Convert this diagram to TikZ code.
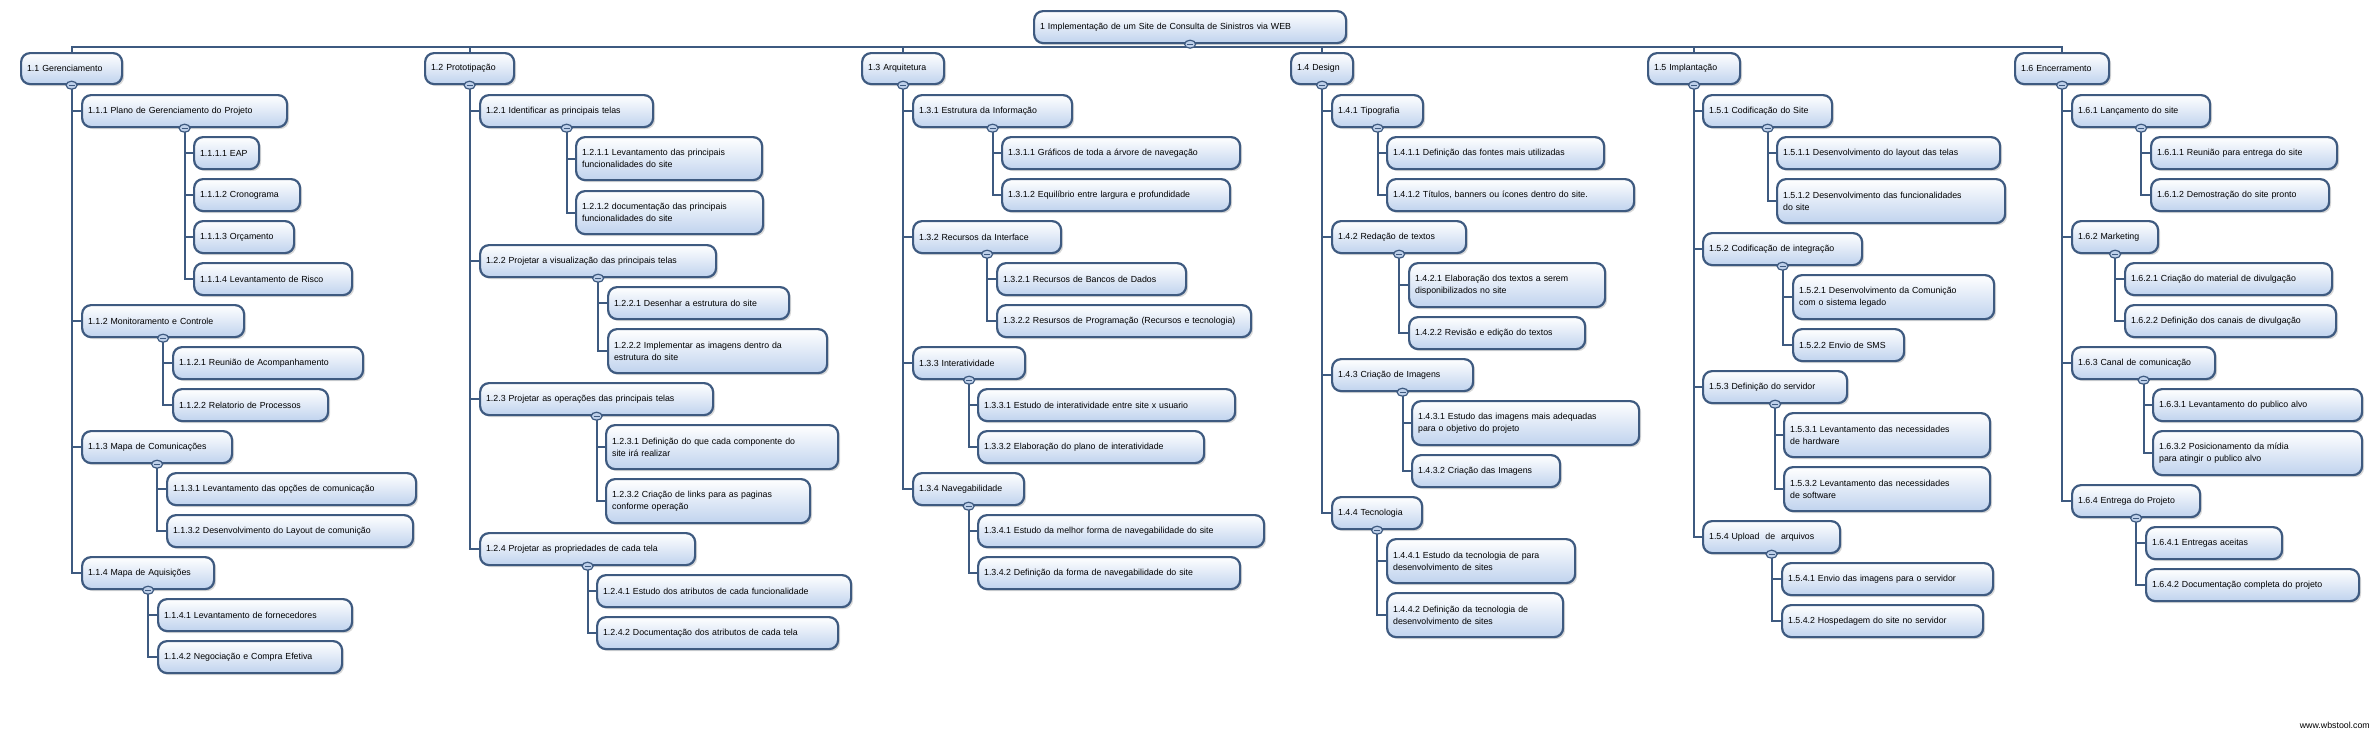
\documentclass[tikz,border=0pt]{standalone}
\usepackage{fontspec}
\setmainfont{Liberation Sans}
\usetikzlibrary{shapes.geometric,shadows}
\definecolor{wbsline}{RGB}{62,90,128}
\definecolor{wbsfill}{RGB}{192,211,238}
\definecolor{wbsbtnfill}{RGB}{190,208,234}
\newcommand\wbsfont{\fontsize{8.8}{12}\selectfont\hyphenpenalty=10000 }
\pgfdeclarelayer{bg}
\pgfsetlayers{bg,main}
\newcommand\wbsbox[6]{%
  \pgfmathsetmacro\wbsw{#4-#2-12}%
  \pgfmathsetmacro\wbsh{#5-#3}%
  \node[wbsnode, text width=\wbsw pt, minimum height=\wbsh pt] (#1) at (#2,#3) {#6};}
\newcommand\wbsbtn[1]{%
  \node[wbsbtn] (#1btn) at (#1.south) {};
  \draw[wbsminus] ([xshift=-3pt]#1btn.center) -- ([xshift=3pt]#1btn.center);}
\newcommand\wbslink[2]{\begin{pgfonlayer}{bg}\draw[wbslinkstyle] (#1.south) |- (#2.west);\end{pgfonlayer}}
\begin{document}
\begin{tikzpicture}[x=1pt,y=-1pt,
  wbsnode/.style={draw=wbsline, line width=2.2pt, rounded corners=9pt,
    top color=white, bottom color=wbsfill, inner xsep=6pt, inner ysep=0pt,
    align=left, font=\wbsfont, anchor=north west,
    drop shadow={shadow xshift=2pt, shadow yshift=-2pt, opacity=0.3}},
  wbsbtn/.style={ellipse, draw=wbsline, line width=1.2pt, fill=wbsbtnfill,
    minimum width=11pt, minimum height=8pt, inner sep=0pt},
  wbsminus/.style={draw=wbsline, line width=1.3pt},
  wbslinkstyle/.style={draw=wbsline, line width=2.2pt}]
\begin{pgfonlayer}{bg}
\fill[white] (0,0) rectangle (2378,734);
\end{pgfonlayer}
\useasboundingbox (0,0) rectangle (2378,734);

% root
\wbsbox{root}{1033}{10}{1345}{42}{1 Implementação de um Site de Consulta de Sinistros via WEB}

% column 1
\wbsbox{a}{20}{52}{121}{83}{1.1 Gerenciamento}
\wbsbox{a1}{81}{94}{286}{126}{1.1.1 Plano de Gerenciamento do Projeto}
\wbsbox{a11}{193}{136}{258}{168}{1.1.1.1 EAP}
\wbsbox{a12}{193}{178}{299}{210}{1.1.1.2 Cronograma}
\wbsbox{a13}{193}{220}{293}{252}{1.1.1.3 Orçamento}
\wbsbox{a14}{193}{262}{351}{294}{1.1.1.4 Levantamento de Risco}
\wbsbox{a2}{81}{304}{243}{336}{1.1.2 Monitoramento e Controle}
\wbsbox{a21}{172}{346}{362}{378}{1.1.2.1 Reunião de Acompanhamento}
\wbsbox{a22}{172}{388}{327}{420}{1.1.2.2 Relatorio de Processos}
\wbsbox{a3}{81}{430}{231}{462}{1.1.3 Mapa de Comunicações}
\wbsbox{a31}{166}{472}{415}{504}{1.1.3.1 Levantamento das opções de comunicação}
\wbsbox{a32}{166}{514}{412}{546}{1.1.3.2 Desenvolvimento do Layout de comunição}
\wbsbox{a4}{81}{556}{213}{588}{1.1.4 Mapa de Aquisições}
\wbsbox{a41}{157}{598}{351}{630}{1.1.4.1 Levantamento de fornecedores}
\wbsbox{a42}{157}{640}{341}{672}{1.1.4.2 Negociação e Compra Efetiva}

% column 2
\wbsbox{b}{424}{52}{513}{83}{1.2 Prototipação}
\wbsbox{b1}{479}{94}{652}{126}{1.2.1 Identificar as principais telas}
\wbsbox{b11}{575}{136}{761}{179}{1.2.1.1 Levantamento das principais\\funcionalidades do site}
\wbsbox{b12}{575}{190}{762}{233}{1.2.1.2 documentação das principais\\funcionalidades do site}
\wbsbox{b2}{479}{244}{715}{276}{1.2.2 Projetar a visualização das principais telas}
\wbsbox{b21}{607}{286}{788}{318}{1.2.2.1 Desenhar a estrutura do site}
\wbsbox{b22}{607}{328}{826}{372}{1.2.2.2 Implementar as imagens dentro da\\estrutura do site}
\wbsbox{b3}{479}{382}{712}{414}{1.2.3 Projetar as operações das principais telas}
\wbsbox{b31}{605}{424}{837}{468}{1.2.3.1 Definição do que cada componente do\\site irá realizar}
\wbsbox{b32}{605}{478}{809}{522}{1.2.3.2 Criação de links para as paginas\\conforme operação}
\wbsbox{b4}{479}{532}{694}{564}{1.2.4 Projetar as propriedades de cada tela}
\wbsbox{b41}{596}{574}{850}{606}{1.2.4.1 Estudo dos atributos de cada funcionalidade}
\wbsbox{b42}{596}{616}{837}{648}{1.2.4.2 Documentação dos atributos de cada tela}

% column 3
\wbsbox{c}{861}{52}{943}{83}{1.3 Arquitetura}
\wbsbox{c1}{912}{94}{1071}{126}{1.3.1 Estrutura da Informação}
\wbsbox{c11}{1001}{136}{1239}{168}{1.3.1.1 Gráficos de toda a árvore de navegação}
\wbsbox{c12}{1001}{178}{1229}{210}{1.3.1.2 Equilíbrio entre largura e profundidade}
\wbsbox{c2}{912}{220}{1060}{252}{1.3.2 Recursos da Interface}
\wbsbox{c21}{996}{262}{1185}{294}{1.3.2.1 Recursos de Bancos de Dados}
\wbsbox{c22}{996}{304}{1250}{336}{1.3.2.2 Resursos de Programação (Recursos e tecnologia)}
\wbsbox{c3}{912}{346}{1024}{378}{1.3.3 Interatividade}
\wbsbox{c31}{977}{388}{1234}{420}{1.3.3.1 Estudo de interatividade entre site x usuario}
\wbsbox{c32}{977}{430}{1203}{462}{1.3.3.2 Elaboração do plano de interatividade}
\wbsbox{c4}{912}{472}{1023}{504}{1.3.4 Navegabilidade}
\wbsbox{c41}{977}{514}{1263}{546}{1.3.4.1 Estudo da melhor forma de navegabilidade do site}
\wbsbox{c42}{977}{556}{1239}{588}{1.3.4.2 Definição da forma de navegabilidade do site}

% column 4
\wbsbox{d}{1290}{52}{1352}{83}{1.4 Design}
\wbsbox{d1}{1331}{94}{1422}{126}{1.4.1 Tipografia}
\wbsbox{d11}{1386}{136}{1603}{168}{1.4.1.1 Definição das fontes mais utilizadas}
\wbsbox{d12}{1386}{178}{1633}{210}{1.4.1.2 Títulos, banners ou ícones dentro do site.}
\wbsbox{d2}{1331}{220}{1465}{252}{1.4.2 Redação de textos}
\wbsbox{d21}{1408}{262}{1604}{306}{1.4.2.1 Elaboração dos textos a serem\\disponibilizados no site}
\wbsbox{d22}{1408}{316}{1584}{348}{1.4.2.2 Revisão e edição do textos}
\wbsbox{d3}{1331}{358}{1472}{390}{1.4.3 Criação de Imagens}
\wbsbox{d31}{1411}{400}{1638}{444}{1.4.3.1 Estudo das imagens mais adequadas\\para o objetivo do projeto}
\wbsbox{d32}{1411}{454}{1559}{486}{1.4.3.2 Criação das Imagens}
\wbsbox{d4}{1331}{496}{1421}{528}{1.4.4 Tecnologia}
\wbsbox{d41}{1386}{538}{1574}{582}{1.4.4.1 Estudo da tecnologia de para\\desenvolvimento de sites}
\wbsbox{d42}{1386}{592}{1562}{636}{1.4.4.2 Definição da tecnologia de\\desenvolvimento de sites}

% column 5
\wbsbox{e}{1647}{52}{1739}{83}{1.5 Implantação}
\wbsbox{e1}{1702}{94}{1831}{126}{1.5.1 Codificação do Site}
\wbsbox{e11}{1776}{136}{1999}{168}{1.5.1.1 Desenvolvimento do layout das telas}
\wbsbox{e12}{1776}{178}{2004}{222}{1.5.1.2 Desenvolvimento das funcionalidades\\do site}
\wbsbox{e2}{1702}{232}{1861}{264}{1.5.2 Codificação de integração}
\wbsbox{e21}{1792}{274}{1993}{318}{1.5.2.1 Desenvolvimento da Comunição\\com o sistema legado}
\wbsbox{e22}{1792}{328}{1903}{360}{1.5.2.2 Envio de SMS}
\wbsbox{e3}{1702}{370}{1846}{402}{1.5.3 Definição do servidor}
\wbsbox{e31}{1783}{412}{1989}{456}{1.5.3.1 Levantamento das necessidades\\de hardware}
\wbsbox{e32}{1783}{466}{1989}{510}{1.5.3.2 Levantamento das necessidades\\de software}
\wbsbox{e4}{1702}{520}{1839}{552}{1.5.4 Upload\ \ de\ \ arquivos}
\wbsbox{e41}{1781}{562}{1992}{594}{1.5.4.1 Envio das imagens para o servidor}
\wbsbox{e42}{1781}{604}{1982}{636}{1.5.4.2 Hospedagem do site no servidor}

% column 6
\wbsbox{f}{2014}{52}{2108}{83}{1.6 Encerramento}
\wbsbox{f1}{2071}{94}{2209}{126}{1.6.1 Lançamento do site}
\wbsbox{f11}{2150}{136}{2336}{168}{1.6.1.1 Reunião para entrega do site}
\wbsbox{f12}{2150}{178}{2328}{210}{1.6.1.2 Demostração do site pronto}
\wbsbox{f2}{2071}{220}{2157}{252}{1.6.2 Marketing}
\wbsbox{f21}{2124}{262}{2331}{294}{1.6.2.1 Criação do material de divulgação}
\wbsbox{f22}{2124}{304}{2335}{336}{1.6.2.2 Definição dos canais de divulgação}
\wbsbox{f3}{2071}{346}{2214}{378}{1.6.3 Canal de comunicação}
\wbsbox{f31}{2152}{388}{2361}{420}{1.6.3.1 Levantamento do publico alvo}
\wbsbox{f32}{2152}{430}{2361}{474}{1.6.3.2 Posicionamento da mídia\\para atingir o publico alvo}
\wbsbox{f4}{2071}{484}{2199}{516}{1.6.4 Entrega do Projeto}
\wbsbox{f41}{2145}{526}{2281}{558}{1.6.4.1 Entregas aceitas}
\wbsbox{f42}{2145}{568}{2358}{600}{1.6.4.2 Documentação completa do projeto}

\node[font=\wbsfont, anchor=east, inner sep=0pt] (credit) at (2370,725) {www.wbstool.com};

% bus
\coordinate (bus) at (0,47);
\begin{pgfonlayer}{bg}
\draw[wbslinkstyle] (root.south) -- (root.south |- bus);
\draw[wbslinkstyle] (a.north) -- (a.north |- bus) -- (f.north |- bus) -- (f.north);
\foreach \n in {b,c,d,e} {\draw[wbslinkstyle] (\n.north) -- (\n.north |- bus);}
\end{pgfonlayer}

% links
\foreach \p/\k in {a/a1,a/a2,a/a3,a/a4,a1/a11,a1/a12,a1/a13,a1/a14,a2/a21,a2/a22,a3/a31,a3/a32,a4/a41,a4/a42,
  b/b1,b/b2,b/b3,b/b4,b1/b11,b1/b12,b2/b21,b2/b22,b3/b31,b3/b32,b4/b41,b4/b42,
  c/c1,c/c2,c/c3,c/c4,c1/c11,c1/c12,c2/c21,c2/c22,c3/c31,c3/c32,c4/c41,c4/c42,
  d/d1,d/d2,d/d3,d/d4,d1/d11,d1/d12,d2/d21,d2/d22,d3/d31,d3/d32,d4/d41,d4/d42,
  e/e1,e/e2,e/e3,e/e4,e1/e11,e1/e12,e2/e21,e2/e22,e3/e31,e3/e32,e4/e41,e4/e42,
  f/f1,f/f2,f/f3,f/f4,f1/f11,f1/f12,f2/f21,f2/f22,f3/f31,f3/f32,f4/f41,f4/f42}
  {\wbslink{\p}{\k}}

% collapse buttons
\foreach \p in {root,a,a1,a2,a3,a4,b,b1,b2,b3,b4,c,c1,c2,c3,c4,d,d1,d2,d3,d4,e,e1,e2,e3,e4,f,f1,f2,f3,f4}
  {\wbsbtn{\p}}
\end{tikzpicture}
\end{document}
